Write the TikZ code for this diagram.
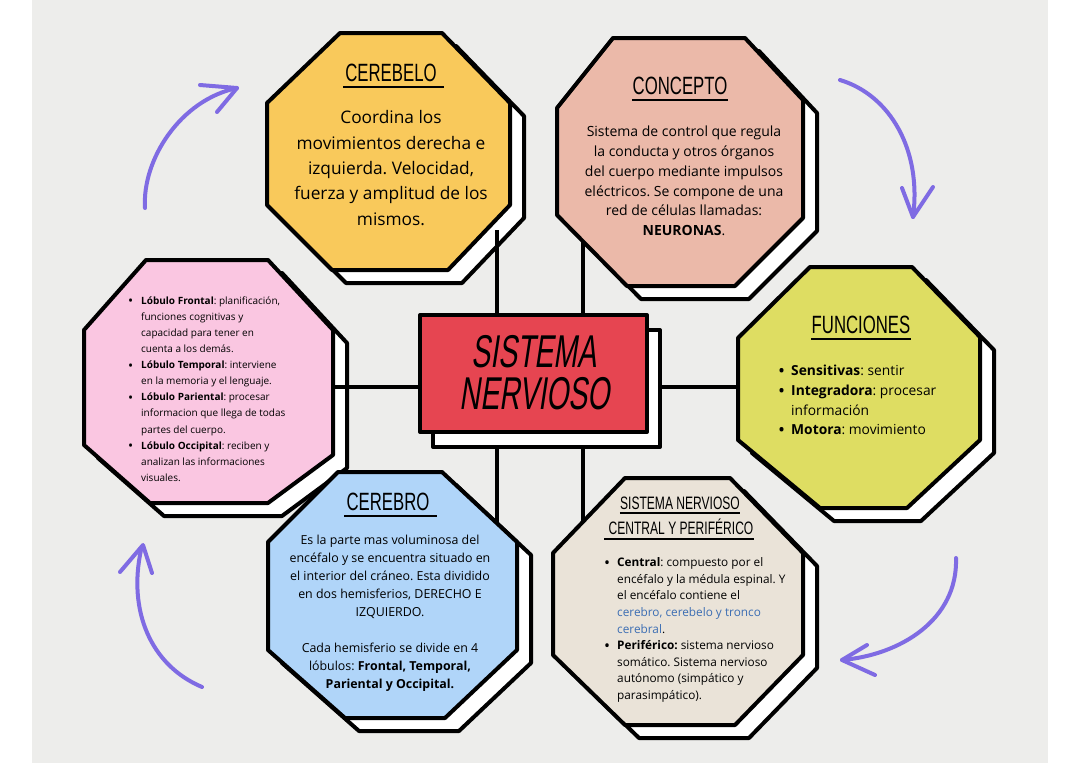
\documentclass[tikz,border=0pt]{standalone}
\usepackage{fontspec}
\setmainfont{Open Sans}
\newfontfamily\tfont[FakeStretch=0.67]{Liberation Sans}
\newfontfamily\cfont[FakeStretch=0.62,FakeSlant=0.15]{Liberation Sans}
\usetikzlibrary{calc}
\definecolor{bgc}{HTML}{EDEDEB}
\definecolor{cyellow}{HTML}{F9C95B}
\definecolor{csalmon}{HTML}{EBB9A9}
\definecolor{clime}{HTML}{DEDD62}
\definecolor{cbeige}{HTML}{EAE3D8}
\definecolor{cblue}{HTML}{B0D5F9}
\definecolor{cpink}{HTML}{FAC6E1}
\definecolor{cred}{HTML}{E64551}
\definecolor{arrowc}{HTML}{7F6BE3}
\definecolor{linkblue}{HTML}{3B6DB3}
\newcommand\bul{\makebox[13pt][l]{\raisebox{-0.28ex}{\scalebox{1.35}{\textbullet}}}}
\newcommand\ind{\hspace*{13pt}}
\frenchspacing
\begin{document}
\begin{tikzpicture}[x=1pt,y=-1pt,
  shadowoct/.style={draw=black, line width=4pt, fill=white, line join=round},
  mainoct/.style={draw=black, line width=4pt, line join=round},
  link/.style={draw=black, line width=4pt},
  ttl/.style={font=\tfont\fontsize{25}{27}\selectfont, inner sep=0pt},
  body/.style={inner sep=0pt, align=center},
  lst/.style={inner sep=0pt, align=left, anchor=west},
  ul/.style={line width=1.8pt},
  arr/.style={draw=arrowc, line width=4pt, line cap=round, line join=round}]
\useasboundingbox (0,0) rectangle (1080,763);
\fill[white] (0,0) rectangle (1080,763);
\fill[bgc] (32,0) rectangle (1048,763);

% shadows
\begin{scope}[shift={(14,13)}]
\draw[shadowoct] (340,33)--(442,33)--(510,103)--(510,205)--(448,270)--(332,270)--(267,205)--(267,103)--cycle;
\draw[shadowoct] (613,38)--(745,38)--(803,100)--(803,218)--(735,286)--(627,286)--(557,215)--(557,108)--cycle;
\draw[shadowoct] (810,267)--(912,267)--(980,337)--(980,440)--(907,508)--(820,508)--(738,440)--(738,338)--cycle;
\draw[shadowoct] (625,478)--(730,478)--(803,553)--(803,655)--(735,725)--(625,725)--(553,655)--(553,553)--cycle;
\draw[shadowoct] (338,472)--(442,472)--(517,542)--(517,650)--(445,718)--(345,718)--(268,650)--(268,542)--cycle;
\draw[shadowoct] (146,260)--(268,260)--(333,330)--(333,455)--(268,503)--(150,503)--(84,445)--(84,330)--cycle;
\end{scope}

% connector end points
\coordinate (cerebeloC) at (497,230);
\coordinate (cerebroC) at (497,540);
\coordinate (conceptoC) at (583,230);
\coordinate (centralC) at (583,540);
\coordinate (lobulosC) at (320,387);
\coordinate (funcionesC) at (750,387);
\draw[link] (cerebeloC) -- (cerebroC);
\draw[link] (conceptoC) -- (centralC);
\draw[link] (lobulosC) -- (funcionesC);

% main octagons
\draw[mainoct, fill=cyellow] (340,33)--(442,33)--(510,103)--(510,205)--(448,270)--(332,270)--(267,205)--(267,103)--cycle;
\draw[mainoct, fill=csalmon] (613,38)--(745,38)--(803,100)--(803,218)--(735,286)--(627,286)--(557,215)--(557,108)--cycle;
\draw[mainoct, fill=clime] (810,267)--(912,267)--(980,337)--(980,440)--(907,508)--(820,508)--(738,440)--(738,338)--cycle;
\draw[mainoct, fill=cbeige] (625,478)--(730,478)--(803,553)--(803,655)--(735,725)--(625,725)--(553,655)--(553,553)--cycle;
\draw[mainoct, fill=cblue] (338,472)--(442,472)--(517,542)--(517,650)--(445,718)--(345,718)--(268,650)--(268,542)--cycle;
\draw[mainoct, fill=cpink] (146,260)--(268,260)--(333,330)--(333,455)--(268,503)--(150,503)--(84,445)--(84,330)--cycle;

% center
\draw[shadowoct] (433,330) rectangle (660,447);
\draw[mainoct, fill=cred] (420,315) rectangle (647,432);
\node[font=\cfont\fontsize{46}{46}\selectfont, inner sep=0pt] (centerA) at (534,352) {SISTEMA};
\node[font=\cfont\fontsize{46}{46}\selectfont, inner sep=0pt] (centerB) at (535,394) {NERVIOSO};

% titles
\node[ttl] (t1) at (391,73) {CEREBELO};
\draw[ul] ([yshift=-5pt,xshift=-2pt]t1.base west) -- ([yshift=-5pt,xshift=7pt]t1.base east);
\node[ttl] (t2) at (680,86) {CONCEPTO};
\draw[ul] ([yshift=-5pt]t2.base west) -- ([yshift=-5pt]t2.base east);
\node[ttl] (t3) at (861,325) {FUNCIONES};
\draw[ul] ([yshift=-5pt]t3.base west) -- ([yshift=-5pt]t3.base east);
\node[ttl] (t4) at (388,502) {CEREBRO};
\draw[ul] ([yshift=-5pt,xshift=-2pt]t4.base west) -- ([yshift=-5pt,xshift=7pt]t4.base east);
\node[ttl, font=\tfont\fontsize{18}{20}\selectfont] (t5) at (680,503) {SISTEMA NERVIOSO};
\draw[ul] ([yshift=-4pt]t5.base west) -- ([yshift=-4pt]t5.base east);
\node[ttl, font=\tfont\fontsize{18}{20}\selectfont] (t6) at (681,527) {CENTRAL Y PERIFÉRICO};
\draw[ul] ([yshift=-4pt,xshift=-4pt]t6.base west) -- ([yshift=-4pt]t6.base east);

% bodies
\node[body, font=\fontsize{17.3}{25.3}\selectfont] (b1) at (391,168)
 {Coordina los\\movimientos derecha e\\izquierda. Velocidad,\\fuerza y amplitud de los\\mismos.};
\node[body, font=\fontsize{14}{19.8}\selectfont] (b2) at (684,181)
 {Sistema de control que regula\\la conducta y otros órganos\\del cuerpo mediante impulsos\\eléctricos. Se compone de una\\red de células llamadas:\\\textbf{NEURONAS}.};
\node[lst, font=\fontsize{13.8}{19.6}\selectfont] (b3) at (778,401)
 {\bul\textbf{Sensitivas}: sentir\\\bul\textbf{Integradora}: procesar\\\ind información\\\bul\textbf{Motora}: movimiento};
\node[lst, font=\fontsize{10}{16.1}\selectfont] (b4) at (128,389)
 {\bul\textbf{Lóbulo Frontal}: planificación,\\\ind funciones cognitivas y\\\ind capacidad para tener en\\\ind cuenta a los demás.\\
  \bul\textbf{Lóbulo Temporal}: interviene\\\ind en la memoria y el lenguaje.\\
  \bul\textbf{Lóbulo Pariental}: procesar\\\ind informacion que llega de todas\\\ind partes del cuerpo.\\
  \bul\textbf{Lóbulo Occipital}: reciben y\\\ind analizan las informaciones\\\ind visuales.};
\node[body, font=\fontsize{12.4}{18}\selectfont] (b5) at (390,613)
 {Es la parte mas voluminosa del\\encéfalo y se encuentra situado en\\el interior del cráneo. Esta dividido\\en dos hemisferios, DERECHO E\\IZQUIERDO.\\[18pt]Cada hemisferio se divide en 4\\lóbulos: \textbf{Frontal, Temporal,}\\\textbf{Pariental y Occipital.}};
\node[lst, font=\fontsize{11.8}{16.6}\selectfont] (b6) at (604,630)
 {\bul\textbf{Central}: compuesto por el\\\ind encéfalo y la médula espinal. Y\\\ind el encéfalo contiene el\\\ind\textcolor{linkblue}{cerebro, cerebelo y tronco}\\\ind\textcolor{linkblue}{cerebral}.\\
  \bul\textbf{Periférico:} sistema nervioso\\\ind somático. Sistema nervioso\\\ind autónomo (simpático y\\\ind parasimpático).};

% arrows
\draw[arr] (145,208) .. controls (142,160) and (180,100) .. (237,88);
\draw[arr] (200,85) -- (237,88) -- (217,112);
\draw[arr] (840,80) .. controls (890,95) and (922,150) .. (913,217);
\draw[arr] (902,188) -- (913,217) -- (933,187);
\draw[arr] (956,558) .. controls (958,620) and (900,655) .. (842,660);
\draw[arr] (867,645) -- (842,660) -- (875,675);
\draw[arr] (202,687) .. controls (150,665) and (128,610) .. (141,550);
\draw[arr] (120,572) -- (143,545) -- (152,573);
\end{tikzpicture}
\end{document}
